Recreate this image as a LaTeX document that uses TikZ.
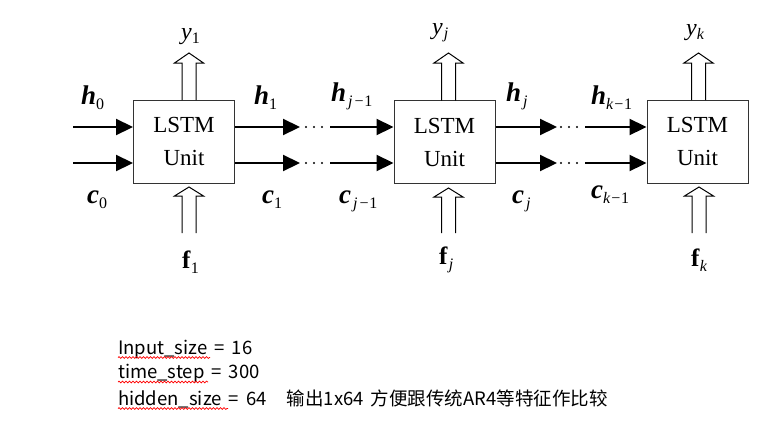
\documentclass[tikz,border=0pt]{standalone}
\usepackage{fontspec}
\setmainfont{Liberation Serif}
\newfontfamily\cjk[WordSpace=1.7]{Noto Sans CJK SC}
\usetikzlibrary{arrows.meta,decorations.pathmorphing}
\newcommand{\bi}[1]{{\bfseries\itshape #1}}
\newcommand{\sbs}[1]{\raisebox{-0.45ex}{\fontsize{16}{16}\selectfont #1}}
\newcommand{\hollowup}[3]{\draw[hollow] ({#1-7},#2) -- ({#1-7},{#3+10}) -- ({#1-14.5},{#3+10}) -- (#1,#3) -- ({#1+14.5},{#3+10}) -- ({#1+7},{#3+10}) -- ({#1+7},#2);}
\newcommand{\hollowdown}[3]{\draw[hollow] ({#1-7},#2) -- ({#1-7},{#3+9}) -- ({#1-14.5},{#3+9}) -- (#1,#3) -- ({#1+14.5},{#3+9}) -- ({#1+7},{#3+9}) -- ({#1+7},#2);}
\newcommand{\threedots}[2]{\foreach \dx in {0,8,16}{\fill ({#1+\dx},#2) circle (1.2);}}
\begin{document}
\begin{tikzpicture}[x=1pt,y=-1pt,
  unitbox/.style={draw=black!80,line width=1pt,minimum width=101pt,minimum height=83pt,inner sep=0pt,align=center,font=\fontsize{23}{33}\selectfont},
  flow/.style={line width=2.2pt,-{Triangle[length=17pt,width=16pt]}},
  hollow/.style={line width=1pt,draw=black},
  lab/.style={anchor=base west,inner sep=0pt,font=\fontsize{27}{27}\selectfont},
  ylab/.style={anchor=base west,inner sep=0pt,font=\fontsize{24}{24}\selectfont\itshape},
  flab/.style={anchor=base west,inner sep=0pt,font=\fontsize{25}{25}\selectfont},
  note/.style={anchor=base west,inner sep=0pt,font=\cjk\fontsize{18.5}{18.5}\selectfont},
  wavy/.style={draw=red,line width=0.7pt,decorate,decoration={snake,amplitude=0.9pt,segment length=3.5pt}}]
\path[fill=white] (0,0) rectangle (770,423);
\useasboundingbox (0,0) rectangle (770,423);

% boxes
\node[unitbox] (b1) at (184,141.5) {LSTM\\Unit};
\node[unitbox] (b2) at (444.5,142) {LSTM\\Unit};
\node[unitbox] (b3) at (697.5,141.5) {LSTM\\Unit};

% free ends
\coordinate (h0s) at (73,127);
\coordinate (c0s) at (73,163);
\coordinate (h1t) at (300,127);
\coordinate (c1t) at (300,163);
\coordinate (h2s) at (330,127);
\coordinate (c2s) at (330,163);
\coordinate (h2t) at (557,127);
\coordinate (c2t) at (557,163);
\coordinate (h3s) at (585,127);
\coordinate (c3s) at (585,163);

% thick flow arrows
\draw[flow] (h0s) -- (b1.west |- h0s);
\draw[flow] (c0s) -- (b1.west |- c0s);
\draw[flow] (b1.east |- h1t) -- (h1t);
\draw[flow] (b1.east |- c1t) -- (c1t);
\draw[flow] (h2s) -- (b2.west |- h2s);
\draw[flow] (c2s) -- (b2.west |- c2s);
\draw[flow] (b2.east |- h2t) -- (h2t);
\draw[flow] (b2.east |- c2t) -- (c2t);
\draw[flow] (h3s) -- (b3.west |- h3s);
\draw[flow] (c3s) -- (b3.west |- c3s);

% dots
\threedots{306}{127}
\threedots{306}{163}
\threedots{561}{127}
\threedots{561}{163}

% hollow arrows
\hollowup{189}{100}{53}
\hollowup{448.5}{100.5}{53}
\hollowup{698.5}{100}{53}
\hollowdown{189}{233}{187}
\hollowdown{448.5}{233}{188}
\hollowdown{699}{233}{187}

% labels box 1
\node[ylab] (y1) at (181,39) {y\sbs{\upshape 1}};
\node[lab] (h0) at (81,104) {\bi{h}\sbs{0}};
\node[lab] (c0) at (87,203) {\bi{c}\sbs{0}};
\node[lab] (h1) at (254,104) {\bi{h}\sbs{1}};
\node[lab] (c1) at (262,203) {\bi{c}\sbs{1}};
\node[flab] (f1) at (182,268) {\textbf{f}\sbs{1}};
% labels box 2
\node[ylab] (yj) at (432,34) {y\sbs{\kern1pt j}};
\node[lab] (hj1) at (331,101) {\bi{h}\sbs{\kern2pt\itshape j\kern1pt−\upshape 1}};
\node[lab] (cj1) at (339,203) {\bi{c}\sbs{\kern2pt\itshape j\kern1pt−\upshape 1}};
\node[lab] (hj) at (506,101) {\bi{h}\sbs{\kern2pt\itshape j}};
\node[lab] (cj) at (512,203) {\bi{c}\sbs{\kern2pt\itshape j}};
\node[flab] (fj) at (439,264) {\textbf{f}\sbs{\kern1pt\itshape j}};
% labels box 3
\node[ylab] (yk) at (686,35) {y\sbs{k}};
\node[lab] (hk1) at (591,104) {\bi{h}\sbs{\itshape k−\upshape 1}};
\node[lab] (ck1) at (591,198) {\bi{c}\sbs{\itshape k−\upshape 1}};
\node[flab] (fk) at (691,266) {\textbf{f}\sbs{\itshape k}};

% notes
\node[note] (n1) at (118,354) {Input\_size = 16};
\node[note] (n2) at (118,378) {time\_step = 300};
\node[note] (n3) at (118,405) {hidden\_size = 64\hspace{20pt}输出1x64 方便跟传统AR4等特征作比较};
\draw[wavy] (118,357.5) -- (210,357.5);
\draw[wavy] (118,382) -- (208,382);
\draw[wavy] (118,408.5) -- (228,408.5);
\end{tikzpicture}
\end{document}
